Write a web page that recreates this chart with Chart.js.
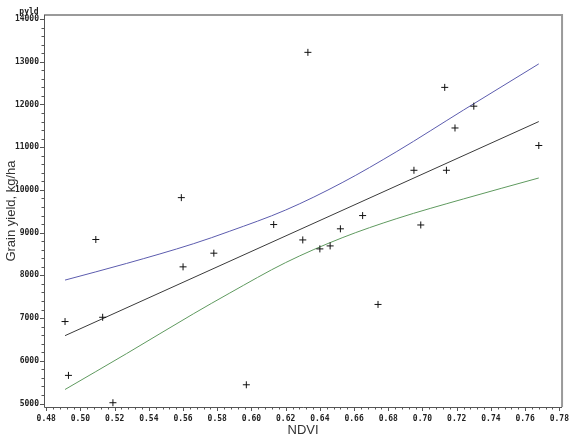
<!DOCTYPE html>
<html>
<head>
<meta charset="utf-8">
<script src="https://cdn.jsdelivr.net/npm/chart.js@4/dist/chart.umd.min.js"></script>
<style>
  html, body { margin: 0; padding: 0; background: #fff; }
  #wrap { width: 576px; height: 438px; }
</style>
</head>
<body>
<div id="wrap"><canvas id="canvas1" width="576" height="438"></canvas></div>
<script>
// observed points
const ndvi = [0.491, 0.493, 0.513, 0.519, 0.509, 0.559, 0.560, 0.578, 0.597, 0.613, 0.633, 0.630,
              0.640, 0.646, 0.652, 0.665, 0.674, 0.695, 0.714, 0.699, 0.713, 0.730, 0.719, 0.768];
const grainYield = [6920, 5660, 7020, 5020, 8840, 9820, 8200, 8520, 5440, 9190, 13220, 8830,
                    8620, 8690, 9090, 9400, 7320, 10460, 10460, 9180, 12400, 11960, 11450, 11040];

// fitted line and confidence limits
const fitX = [0.491, 0.768];
const fitY = [6590, 11600];
const bandX = [0.491, 0.527, 0.566, 0.587, 0.620, 0.653, 0.685, 0.724, 0.768];
const upperCL = [7890, 8280, 8740, 9030, 9530, 10170, 10900, 11870, 12950];
const lowerCL = [5330, 6170, 7100, 7580, 8300, 8880, 9330, 9790, 10280];

// axis ticks
const xTicks = [0.48, 0.50, 0.52, 0.54, 0.56, 0.58, 0.60, 0.62, 0.64, 0.66, 0.68, 0.70, 0.72, 0.74, 0.76, 0.78];
const yTicks = [5000, 6000, 7000, 8000, 9000, 10000, 11000, 12000, 13000, 14000];

const pts = (xs, ys) => xs.map((x, i) => ({x: x, y: ys[i]}));
const tickFont = {family: "'DejaVu Sans Mono', monospace", size: 8, weight: 'bold'};

// frame, tick marks and the little "pyld" label
const sasFrame = {
  id: 'sasFrame',
  afterDraw(chart) {
    const ctx = chart.ctx, a = chart.chartArea;
    const xs = chart.scales.x, ys = chart.scales.y;
    ctx.save();
    ctx.strokeStyle = '#9a9a9a';
    ctx.lineWidth = 2;
    ctx.beginPath();
    ctx.moveTo(a.left, a.top); ctx.lineTo(a.right, a.top); ctx.lineTo(a.right, a.bottom);
    ctx.stroke();

    ctx.strokeStyle = '#555';
    ctx.lineWidth = 1;
    ctx.beginPath();
    ctx.moveTo(a.left + 0.5, a.top); ctx.lineTo(a.left + 0.5, a.bottom + 0.5); ctx.lineTo(a.right, a.bottom + 0.5);
    // x ticks, 4 minor between majors
    for (let i = 0; i < xTicks.length; i++) {
      const px = Math.round(xs.getPixelForValue(xTicks[i])) + 0.5;
      ctx.moveTo(px, a.bottom); ctx.lineTo(px, a.bottom + 4);
      if (i < xTicks.length - 1) {
        for (let k = 1; k < 5; k++) {
          const m = Math.round(xs.getPixelForValue(xTicks[i] + (xTicks[i + 1] - xTicks[i]) * k / 5)) + 0.5;
          ctx.moveTo(m, a.bottom); ctx.lineTo(m, a.bottom + 2.5);
        }
      }
    }
    for (let i = 0; i < yTicks.length; i++) {
      const py = Math.round(ys.getPixelForValue(yTicks[i])) + 0.5;
      ctx.moveTo(a.left, py); ctx.lineTo(a.left - 4, py);
      if (i < yTicks.length - 1) {
        for (let k = 1; k < 5; k++) {
          const m = Math.round(ys.getPixelForValue(yTicks[i] + (yTicks[i + 1] - yTicks[i]) * k / 5)) + 0.5;
          ctx.moveTo(a.left, m); ctx.lineTo(a.left - 2.5, m);
        }
      }
    }
    ctx.stroke();

    ctx.fillStyle = '#222';
    ctx.font = "bold 8px 'DejaVu Sans Mono', monospace";
    ctx.textAlign = 'center';
    ctx.textBaseline = 'middle';
    ctx.fillText('pyld', 29, 12);
    ctx.restore();
  }
};

new Chart(document.getElementById('canvas1'), {
  type: 'scatter',
  data: {
    datasets: [
      {
        label: 'pyld',
        data: pts(ndvi, grainYield),
        pointStyle: 'cross',
        pointRadius: 3.5,
        borderColor: '#111',
        borderWidth: 1,
        order: 0
      },
      {
        label: 'fit',
        data: pts(fitX, fitY),
        showLine: true,
        pointRadius: 0,
        borderColor: '#3a3a3a',
        borderWidth: 1
      },
      {
        label: 'upper',
        data: pts(bandX, upperCL),
        showLine: true,
        pointRadius: 0,
        cubicInterpolationMode: 'monotone',
        borderColor: '#5c5cae',
        borderWidth: 1
      },
      {
        label: 'lower',
        data: pts(bandX, lowerCL),
        showLine: true,
        pointRadius: 0,
        cubicInterpolationMode: 'monotone',
        borderColor: '#5f9a5f',
        borderWidth: 1
      }
    ]
  },
  options: {
    responsive: false,
    animation: false,
    layout: { padding: {top: 15, right: 10, left: 0, bottom: 0} },
    plugins: { legend: {display: false}, tooltip: {enabled: false} },
    scales: {
      x: {
        type: 'linear',
        min: 0.4787,
        max: 0.7816,
        grid: {display: false, drawTicks: false},
        border: {display: false},
        afterBuildTicks: s => { s.ticks = xTicks.map(v => ({value: v})); },
        afterFit: s => { s.height = 31; },
        ticks: {
          font: tickFont,
          color: '#222',
          padding: 7,
          maxRotation: 0,
          autoSkip: false,
          callback: v => v.toFixed(2)
        },
        title: {
          display: true,
          text: 'NDVI',
          font: {family: 'Arial, "Liberation Sans", sans-serif', size: 13},
          color: '#333',
          padding: {top: 0, bottom: 0}
        }
      },
      y: {
        type: 'linear',
        min: 4920,
        max: 14094,
        grid: {display: false, drawTicks: false},
        border: {display: false},
        afterBuildTicks: s => { s.ticks = yTicks.map(v => ({value: v})); },
        afterFit: s => { s.width = 44; },
        ticks: {
          font: tickFont,
          color: '#222',
          padding: 5,
          autoSkip: false,
          callback: v => String(v)
        },
        title: {
          display: true,
          text: 'Grain yield, kg/ha',
          font: {family: 'Arial, "Liberation Sans", sans-serif', size: 13},
          color: '#333',
          padding: {top: 4, bottom: 0}
        }
      }
    }
  },
  plugins: [sasFrame]
});
</script>
</body>
</html>
